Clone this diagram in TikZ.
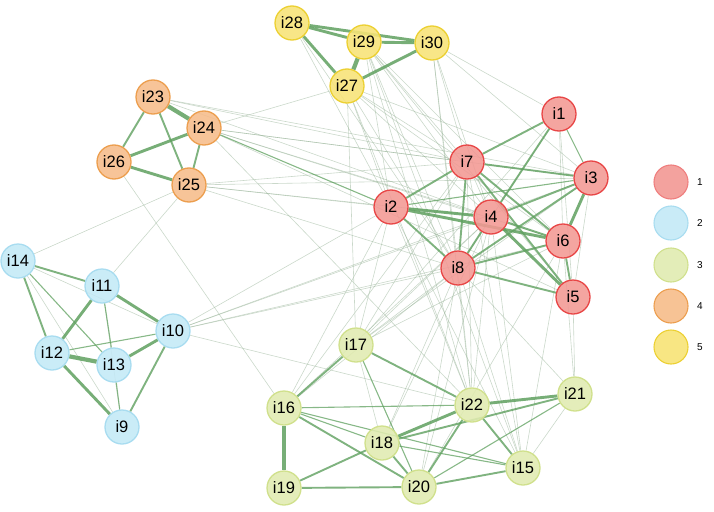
\documentclass[tikz,border=0pt]{standalone}
\usepackage{fontspec}
\setmainfont{Liberation Sans}
\usetikzlibrary{backgrounds}
\definecolor{eg}{RGB}{95,160,95}
\definecolor{ef}{RGB}{150,178,150}
\definecolor{rfill}{RGB}{242,152,147}\definecolor{rdraw}{RGB}{232,70,70}
\definecolor{bfill}{RGB}{195,233,246}\definecolor{bdraw}{RGB}{168,220,240}
\definecolor{gfill}{RGB}{224,235,176}\definecolor{gdraw}{RGB}{208,224,140}
\definecolor{ofill}{RGB}{246,188,138}\definecolor{odraw}{RGB}{236,158,78}
\definecolor{yfill}{RGB}{247,227,118}\definecolor{ydraw}{RGB}{236,208,50}
\tikzset{
 nd/.style={circle,minimum size=34pt,inner sep=0pt,line width=1.3pt,fill opacity=0.88,text opacity=1,font=\fontsize{16.5}{16.5}\selectfont},
 cr/.style={nd,fill=rfill,draw=rdraw},
 cb/.style={nd,fill=bfill,draw=bdraw},
 cg/.style={nd,fill=gfill,draw=gdraw},
 co/.style={nd,fill=ofill,draw=odraw},
 cy/.style={nd,fill=yfill,draw=ydraw},
 lg/.style={circle,minimum size=34pt,inner sep=0pt,line width=1.1pt,fill opacity=0.9},
 lt/.style={font=\fontsize{10}{10}\selectfont,anchor=west,inner sep=0pt},
 ef/.style={draw=ef,line width=0.6pt,opacity=0.5},
 e1/.style={draw=eg,line width=1.1pt,opacity=0.75},
 e2/.style={draw=eg,line width=1.9pt,opacity=0.8},
 e3/.style={draw=eg,line width=2.9pt,opacity=0.85},
 e4/.style={draw=eg,line width=4.2pt,opacity=0.85},
}
\begin{document}
\begin{tikzpicture}[x=1pt,y=-1pt]
\useasboundingbox (0,0) rectangle (714,511);
% cluster 1
\node[cr] (i1) at (559,114) {i1};
\node[cr] (i7) at (467,162) {i7};
\node[cr] (i3) at (591,178) {i3};
\node[cr] (i2) at (391,207) {i2};
\node[cr] (i4) at (491,217) {i4};
\node[cr] (i6) at (563,241) {i6};
\node[cr] (i8) at (458,268) {i8};
\node[cr] (i5) at (573,297) {i5};
% cluster 2
\node[cb] (i14) at (18,261) {i14};
\node[cb] (i11) at (102,286) {i11};
\node[cb] (i10) at (173,331) {i10};
\node[cb] (i12) at (52,353) {i12};
\node[cb] (i13) at (114,365) {i13};
\node[cb] (i9) at (122,427) {i9};
% cluster 3
\node[cg] (i17) at (356,345) {i17};
\node[cg] (i16) at (284,408) {i16};
\node[cg] (i22) at (472,405) {i22};
\node[cg] (i21) at (575,394) {i21};
\node[cg] (i18) at (382,443) {i18};
\node[cg] (i15) at (523,468) {i15};
\node[cg] (i19) at (284,488) {i19};
\node[cg] (i20) at (419,487) {i20};
% cluster 4
\node[co] (i23) at (153,97) {i23};
\node[co] (i24) at (204,128) {i24};
\node[co] (i26) at (114,162) {i26};
\node[co] (i25) at (189,185) {i25};
% cluster 5
\node[cy] (i28) at (292,23) {i28};
\node[cy] (i29) at (364,42) {i29};
\node[cy] (i30) at (432,43) {i30};
\node[cy] (i27) at (347,86) {i27};
% legend
\node[lg,fill=rfill,draw=rdraw!70] (l1) at (671,182) {};
\node[lg,fill=bfill,draw=bdraw] (l2) at (671,223) {};
\node[lg,fill=gfill,draw=gdraw] (l3) at (671,265) {};
\node[lg,fill=ofill,draw=odraw] (l4) at (671,306) {};
\node[lg,fill=yfill,draw=ydraw] (l5) at (671,347) {};
\node[lt] (t1) at (697,182) {1};
\node[lt] (t2) at (697,223) {2};
\node[lt] (t3) at (697,265) {3};
\node[lt] (t4) at (697,306) {4};
\node[lt] (t5) at (697,347) {5};
\begin{scope}[on background layer]
% faint edges
\foreach \a/\b in {i27/i2,i27/i7,i27/i4,i27/i8,i27/i6,i27/i22,i27/i17,i27/i24,i27/i3,
 i29/i7,i29/i2,i29/i4,i29/i8,i29/i6,i29/i5,i29/i22,i29/i15,
 i30/i7,i30/i3,i30/i4,i30/i22,i30/i8,i30/i1,
 i28/i2,i28/i8,
 i23/i7,i23/i3,i23/i4,
 i24/i7,i24/i3,i24/i6,i24/i4,i24/i5,i24/i22,
 i25/i2,i25/i3,i25/i4,i25/i8,i25/i7,i25/i14,i25/i11,
 i26/i16,i14/i9,i11/i9,i14/i10,
 i10/i2,i10/i4,i10/i3,i10/i8,i10/i22,i10/i6,
 i17/i2,i17/i7,i17/i4,i17/i3,i17/i6,i17/i1,i17/i8,i17/i18,
 i16/i2,i16/i8,i16/i4,i16/i7,
 i22/i8,i22/i2,i22/i7,i22/i4,
 i21/i5,i21/i8,i21/i6,i21/i15,
 i15/i8,i15/i4,i15/i7,i15/i2,i15/i6,
 i18/i8,i18/i4,i20/i8,i20/i4,i20/i6,
 i1/i6,i1/i5,i3/i5,i7/i4,i1/i8}
 \draw[ef] (\a) -- (\b);
% cluster 1
\foreach \a/\b in {i1/i3,i2/i3}
 \draw[e1] (\a) -- (\b);
\foreach \a/\b in {i1/i7,i1/i4,i7/i3,i7/i2,i7/i8,i7/i6,i7/i5,i2/i8,i4/i3,i4/i6,i4/i8,i3/i8,i6/i8,i8/i5,i6/i5}
 \draw[e2] (\a) -- (\b);
\foreach \a/\b in {i2/i4,i2/i6,i4/i5,i3/i6}
 \draw[e3] (\a) -- (\b);
\draw[e1] (i24) -- (i2);
% cluster 2
\foreach \a/\b in {i14/i13,i11/i13,i13/i9,i12/i10}
 \draw[e1] (\a) -- (\b);
\foreach \a/\b in {i14/i11,i14/i12,i10/i9}
 \draw[e2] (\a) -- (\b);
\foreach \a/\b in {i11/i10,i11/i12,i13/i10,i12/i9}
 \draw[e3] (\a) -- (\b);
\draw[e4] (i12) -- (i13);
% cluster 3
\foreach \a/\b in {i16/i22,i16/i18,i16/i15,i18/i15,i20/i21,i17/i20}
 \draw[e1] (\a) -- (\b);
\foreach \a/\b in {i17/i16,i17/i22,i16/i20,i19/i18,i19/i20,i18/i21,i18/i20,i22/i20,i22/i15,i20/i15}
 \draw[e2] (\a) -- (\b);
\foreach \a/\b in {i18/i22,i22/i21}
 \draw[e3] (\a) -- (\b);
\draw[e4] (i16) -- (i19);
% cluster 4
\foreach \a/\b in {i23/i26,i23/i25,i24/i25}
 \draw[e2] (\a) -- (\b);
\foreach \a/\b in {i24/i26,i26/i25}
 \draw[e3] (\a) -- (\b);
\draw[e4] (i23) -- (i24);
% cluster 5
\foreach \a/\b in {i28/i29,i28/i30,i29/i30,i28/i27,i30/i27}
 \draw[e3] (\a) -- (\b);
\draw[e4] (i29) -- (i27);
\end{scope}
\end{tikzpicture}
\end{document}
